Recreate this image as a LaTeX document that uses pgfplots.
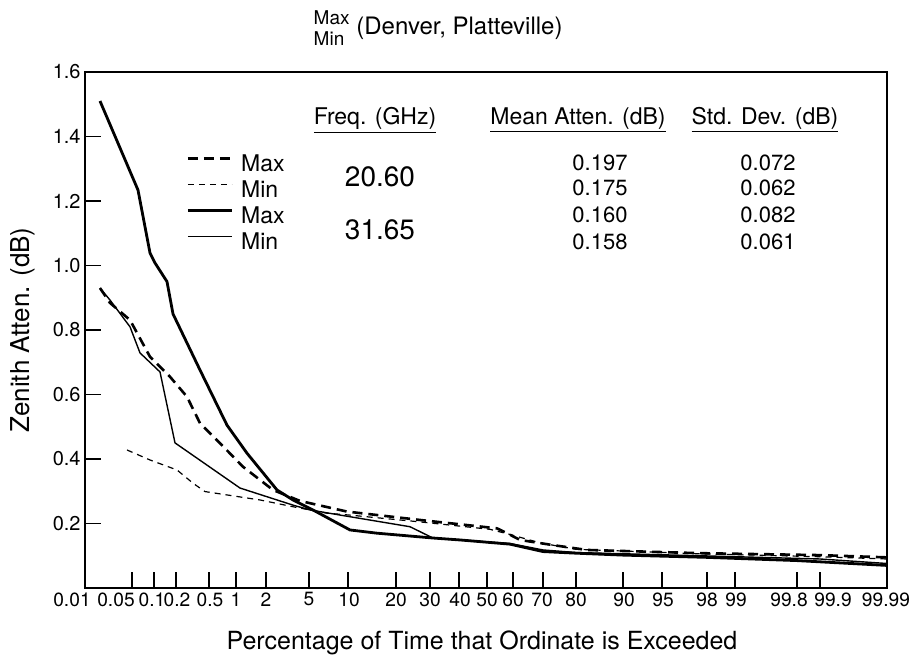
\documentclass[border=0pt]{standalone}
\usepackage{pgfplots}
\pgfplotsset{compat=1.18}
\usepackage{fontspec}
\setmainfont{TeX Gyre Heros}

% x values are positions on the probability scale, in reference pixels
% (0.01 -> 85, 99.99 -> 887)
\pgfplotstableread{
x y
100 0.930
110 0.884
130 0.831
150 0.717
170 0.655
187 0.593
200 0.511
220 0.449
243 0.376
273 0.304
300 0.270
347 0.237
420 0.211
497 0.185
507 0.170
520 0.149
553 0.133
587 0.118
700 0.108
820 0.102
887 0.095
}\maxlow
\pgfplotstableread{
x y
127 0.428
150 0.397
177 0.366
193 0.325
205 0.299
260 0.273
293 0.252
327 0.232
350 0.226
420 0.205
490 0.182
510 0.166
540 0.140
576 0.120
700 0.106
820 0.097
887 0.090
}\minlow
\pgfplotstableread{
x y
100 1.510
138 1.234
150 1.039
155 1.008
167 0.950
173 0.850
200 0.676
227 0.505
247 0.418
277 0.304
293 0.273
313 0.242
350 0.180
377 0.170
433 0.155
460 0.149
510 0.136
543 0.113
576 0.108
623 0.102
707 0.095
797 0.085
887 0.070
}\maxhigh
\pgfplotstableread{
x y
100 0.930
110 0.893
130 0.810
140 0.729
160 0.670
175 0.450
240 0.310
293 0.257
310 0.242
350 0.221
410 0.190
433 0.155
510 0.138
543 0.118
576 0.110
700 0.100
820 0.090
887 0.076
}\minhigh

\begin{document}
\begin{tikzpicture}
\begin{axis}[
  width=401pt, height=258pt, scale only axis,
  xmin=85, xmax=887, ymin=0, ymax=1.6,
  clip=false,
  axis line style={line width=1pt},
  tick align=inside,
  xtick pos=bottom, ytick pos=left,
  major tick length=8pt,
  every tick/.style={black, line width=0.9pt},
  xtick={85,132,154,176,209,236,266,309,348,396,430,459,487,513,543,576,623,662,707,735,797,820,887},
  xticklabels={},
  extra x ticks={85,116,152,177,210,236,266,309,349,396,430,460,487,513,542,576,624,663,707,736,789,833,886},
  extra x tick labels={\makebox[0pt]{\hspace{-13pt}0.01},0.05,0.1,0.2,0.5,1,2,5,10,20,30,40,50,60,70,80,90,95,98,99,99.8,99.9,99.99},
  extra x tick style={major tick length=0pt,
    xticklabel style={font=\fontsize{9.6}{11}\selectfont, inner sep=1pt, yshift=-1pt}},
  ytick={0.2,0.4,0.6,0.8,1.0,1.2,1.4,1.6},
  yticklabel style={font=\fontsize{10}{11}\selectfont, /pgf/number format/fixed,
    /pgf/number format/precision=1, /pgf/number format/fixed zerofill,
    /pgf/number format/assume math mode=true, inner sep=2pt},
  xlabel={Percentage of Time that Ordinate is Exceeded},
  ylabel={Zenith Atten. (dB)},
  xlabel style={at={(axis description cs:0.495,-0.107)}, anchor=center,
    font=\fontsize{12.5}{14}\selectfont},
  ylabel style={at={(axis description cs:-0.0773,0.5)}, anchor=center,
    font=\fontsize{13}{15}\selectfont},
  legend style={at={(axis cs:186,1.349)}, anchor=north west, draw=none, fill=none,
    inner sep=0pt, row sep=0pt, column sep=4pt,
    font=\fontsize{11.5}{13}\selectfont,
    nodes={inner sep=0pt, text height=9pt, text depth=4pt}},
  legend cell align=left,
  legend image code/.code={\draw[#1] (0pt,3.8pt) -- (22pt,3.8pt);},
]
\addplot[black, line width=1.3pt, dash pattern=on 5pt off 3pt] table {\maxlow};
\addplot[black, line width=0.6pt, dash pattern=on 3pt off 2.5pt] table {\minlow};
\addplot[black, line width=1.4pt] table {\maxhigh};
\addplot[black, line width=0.7pt] table {\minhigh};
\legend{Max, Min, Max, Min}

% title
\node[anchor=east, align=left, inner sep=0pt, font=\fontsize{9.5}{10.5}\selectfont]
  at (axis cs:350,1.735) {Max\\Min};
\node[anchor=west, inner sep=0pt, font=\fontsize{12}{14}\selectfont]
  at (axis cs:356,1.735) {(Denver, Platteville)};

% table
\node[font=\fontsize{11.5}{13}\selectfont] at (axis cs:375,1.451) {\underline{Freq. (GHz)}};
\node[font=\fontsize{11.5}{13}\selectfont] at (axis cs:578,1.451) {\underline{Mean Atten. (dB)}};
\node[font=\fontsize{11.5}{13}\selectfont] at (axis cs:765,1.451) {\underline{Std. Dev. (dB)}};
\node[font=\fontsize{14}{16}\selectfont] at (axis cs:380,1.275) {20.60};
\node[font=\fontsize{14}{16}\selectfont] at (axis cs:380,1.112) {31.65};
\node[font=\fontsize{11}{12}\selectfont] at (axis cs:600,1.318) {0.197};
\node[font=\fontsize{11}{12}\selectfont] at (axis cs:600,1.240) {0.175};
\node[font=\fontsize{11}{12}\selectfont] at (axis cs:600,1.157) {0.160};
\node[font=\fontsize{11}{12}\selectfont] at (axis cs:600,1.073) {0.158};
\node[font=\fontsize{11}{12}\selectfont] at (axis cs:768,1.318) {0.072};
\node[font=\fontsize{11}{12}\selectfont] at (axis cs:768,1.240) {0.062};
\node[font=\fontsize{11}{12}\selectfont] at (axis cs:768,1.157) {0.082};
\node[font=\fontsize{11}{12}\selectfont] at (axis cs:768,1.073) {0.061};

\coordinate (BL) at (axis cs:0,-0.2047);
\coordinate (TR) at (axis cs:915,1.8233);
\end{axis}
\pgfresetboundingbox
\path[use as bounding box] (BL) rectangle (TR);
\end{tikzpicture}
\end{document}
